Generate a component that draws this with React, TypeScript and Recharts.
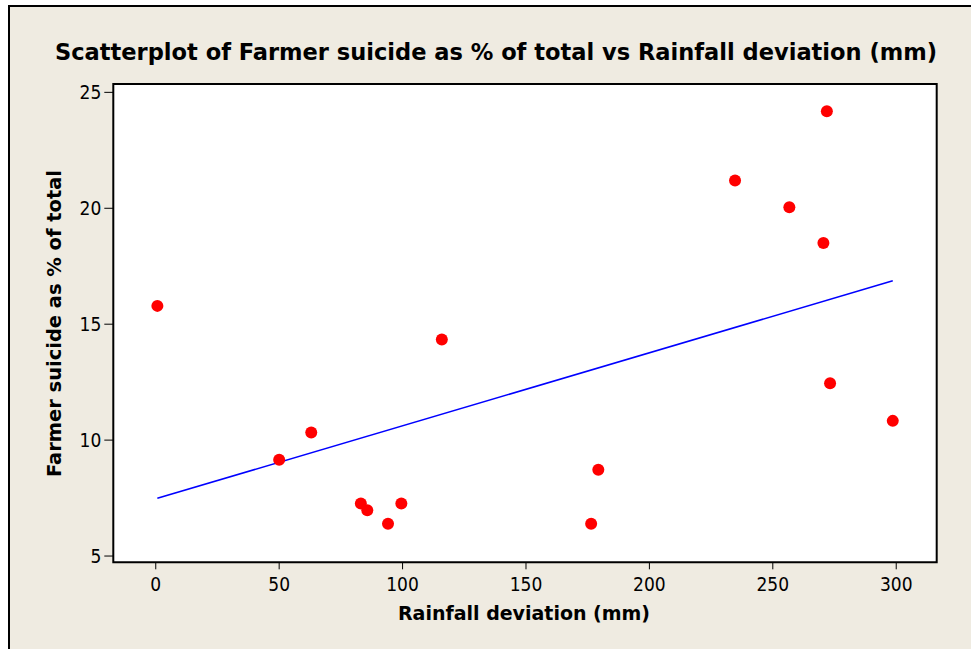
import React from 'react';
import { ScatterChart, Scatter, XAxis, YAxis, CartesianGrid, ReferenceArea, Customized } from 'recharts';

const rainfall = [0.65, 50.0, 63.0, 83.1, 85.7, 94.1, 99.5, 115.9, 176.4, 179.3, 234.7, 256.7, 270.5, 271.9, 273.2, 298.6];
const suicidePct = [15.79, 9.15, 10.33, 7.27, 6.97, 6.39, 7.27, 14.34, 6.39, 8.72, 21.2, 20.04, 18.5, 24.18, 12.45, 10.83];
const fitX = [0.65, 298.6];
const fitY = [7.49, 16.87];
const xTicks = [0, 50, 100, 150, 200, 250, 300];
const yTicks = [5, 10, 15, 20, 25];
const xDomain: [number, number] = [-17.2, 316.4];
const yDomain: [number, number] = [4.73, 25.36];

const title = 'Scatterplot of Farmer suicide as % of total vs Rainfall deviation (mm)';
const xTitle = 'Rainfall deviation (mm)';
const yTitle = 'Farmer suicide as % of total';

const points = rainfall.map((x, i) => ({ x, y: suicidePct[i] }));
const fitData = fitX.map((x, i) => ({ x, y: fitY[i] }));

const FONT = '"DejaVu Sans Condensed", "DejaVu Sans", Tahoma, sans-serif';

const XTick = (props: any) => {
  const { x, y, payload } = props;
  return (
    <text x={x} y={y} dy="0.71em" textAnchor="middle" fontFamily={FONT} fontSize={19} fill="#000">
      {payload.value}
    </text>
  );
};

const YTick = (props: any) => {
  const { x, y, payload } = props;
  return (
    <text x={x} y={y} dy="0.36em" textAnchor="end" fontFamily={FONT} fontSize={19} fill="#000">
      {payload.value}
    </text>
  );
};

const Dot = (props: any) => <circle cx={props.cx} cy={props.cy} r={6} fill="#ff0000" />;
const NoDot = () => <g />;

const Titles = () => (
  <g>
    <text x={496} y={60} textAnchor="middle" fontFamily={FONT} fontWeight="bold" fontSize={23} fill="#000"
      textLength={882} lengthAdjust="spacingAndGlyphs">{title}</text>
    <text x={524} y={620} textAnchor="middle" fontFamily={FONT} fontWeight="bold" fontSize={19} fill="#000"
      textLength={252} lengthAdjust="spacingAndGlyphs">{xTitle}</text>
    <text x={61} y={323.5} textAnchor="middle" fontFamily={FONT} fontWeight="bold" fontSize={19} fill="#000"
      transform="rotate(-90, 61, 323.5)" textLength={307} lengthAdjust="spacingAndGlyphs">{yTitle}</text>
  </g>
);

export default function App() {
  return (
    <div style={{ position: 'absolute', left: 0, top: 0, width: 971, height: 649, background: '#fff', overflow: 'hidden' }}>
      <div style={{ position: 'absolute', left: 8, top: 5, right: 0, bottom: 0, background: '#EFEBE1', borderLeft: '2px solid #000', borderTop: '2px solid #000' }} />
      <div style={{ position: 'absolute', left: 0, top: 0 }}>
        <ScatterChart width={971} height={649} margin={{ top: 84, right: 34.3, bottom: 36.7, left: 43.3 }}>
          <CartesianGrid fill="#ffffff" horizontal={false} vertical={false} />
          <XAxis type="number" dataKey="x" domain={xDomain} allowDataOverflow ticks={xTicks} interval={0}
            height={50} axisLine={false} tickSize={7} tickMargin={8}
            tickLine={{ stroke: '#000', strokeWidth: 1 }} tick={<XTick />} />
          <YAxis type="number" dataKey="y" domain={yDomain} allowDataOverflow ticks={yTicks} interval={0}
            width={70} axisLine={false} tickSize={9} tickMargin={3}
            tickLine={{ stroke: '#000', strokeWidth: 1 }} tick={<YTick />} />
          <ReferenceArea x1={xDomain[0]} x2={xDomain[1]} y1={yDomain[0]} y2={yDomain[1]} ifOverflow="visible"
            fill="none" fillOpacity={0} stroke="#000" strokeWidth={2} />
          <Scatter data={fitData} line={{ stroke: '#0000ff', strokeWidth: 1.6 }} shape={<NoDot />} isAnimationActive={false} />
          <Scatter data={points} shape={<Dot />} isAnimationActive={false} />
          <Customized component={Titles} />
        </ScatterChart>
      </div>
    </div>
  );
}
